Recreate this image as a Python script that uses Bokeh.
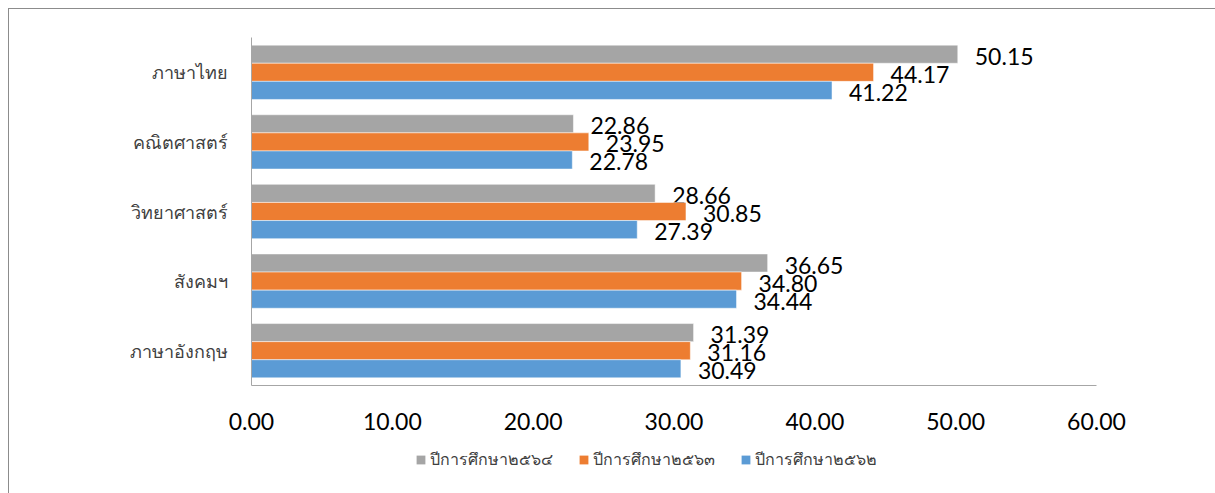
from bokeh.plotting import figure
from bokeh.layouts import column
from bokeh.models import FactorRange, Range1d, Legend, LegendItem, ColumnDataSource, NumeralTickFormatter, FixedTicker
from bokeh.transform import dodge
from bokeh.core.properties import value
from bokeh.embed import file_html
from bokeh.resources import INLINE

categories = ["ภาษาไทย", "คณิตศาสตร์", "วิทยาศาสตร์", "สังคมฯ", "ภาษาอังกฤษ"]
series_names = ["ปีการศึกษา๒๕๖๔", "ปีการศึกษา๒๕๖๓", "ปีการศึกษา๒๕๖๒"]
y2564 = [50.15, 22.86, 28.66, 36.65, 31.39]
y2563 = [44.17, 23.95, 30.85, 34.80, 31.16]
y2562 = [41.22, 22.78, 27.39, 34.44, 30.49]
x_ticks = [0, 10, 20, 30, 40, 50, 60]

colors = ["#A5A5A5", "#ED7D31", "#5B9BD5"]
offsets = [0.26, 0.0, -0.26]

src = ColumnDataSource(dict(cat=categories, s0=y2564, s1=y2563, s2=y2562,
                            l0=["%.2f" % v for v in y2564],
                            l1=["%.2f" % v for v in y2563],
                            l2=["%.2f" % v for v in y2562]))

p = figure(y_range=FactorRange(factors=list(reversed(categories)), range_padding=0),
           x_range=Range1d(0, 60), width=1207, height=432,
           output_backend="svg", toolbar_location=None,
           min_border_left=242, min_border_right=120, min_border_top=28,
           min_border_bottom=56)
p.margin = (8, 0, 0, 8)
p.styles = {"border-left": "1px solid #8c8c8c", "border-top": "1px solid #8c8c8c"}

for i in range(3):
    p.hbar(y=dodge("cat", offsets[i], range=p.y_range), right="s%d" % i, left=0,
           height=0.26, source=src, fill_color=colors[i], line_color="white", line_width=0.5)
    p.text(x="s%d" % i, y=dodge("cat", offsets[i], range=p.y_range), text="l%d" % i, source=src,
           x_offset=17, y_offset=2, text_baseline="middle", text_align="left",
           text_font=value("Lato"), text_font_size="23px", text_color="#000000")

p.xgrid.visible = False
p.ygrid.visible = False
p.outline_line_color = None

p.xaxis.ticker = FixedTicker(ticks=x_ticks)
p.xaxis.formatter = NumeralTickFormatter(format="0.00")
p.xaxis.major_tick_line_color = None
p.xaxis.minor_tick_line_color = None
p.xaxis.major_tick_out = 0
p.xaxis.major_label_standoff = 27
p.xaxis.major_label_text_font = "Lato"
p.xaxis.major_label_text_font_size = "23px"
p.xaxis.major_label_text_color = "#000000"
p.xaxis.axis_line_color = "#a6a6a6"

p.yaxis.major_tick_line_color = None
p.yaxis.minor_tick_line_color = None
p.yaxis.major_tick_out = 0
p.yaxis.major_label_standoff = 24
p.yaxis.major_label_text_font = "Noto Sans"
p.yaxis.major_label_text_font_size = "18px"
p.yaxis.major_label_text_color = "#404040"
p.yaxis.axis_line_color = "#a6a6a6"

# legend strip below the chart (same series, renderers hidden)
lg = figure(y_range=FactorRange(factors=list(reversed(categories))), x_range=Range1d(0, 60),
            width=1207, height=53, output_backend="svg", toolbar_location=None,
            min_border=0)
lg.margin = (0, 0, 0, 8)
lg.styles = {"border-left": "1px solid #8c8c8c"}
lg.axis.visible = False
lg.grid.visible = False
lg.outline_line_color = None
items = []
for i in range(3):
    r = lg.hbar(y="cat", right="s%d" % i, left=0, height=0.26, source=src,
                fill_color=colors[i], line_color=None, visible=False)
    items.append(LegendItem(label=series_names[i], renderers=[r]))

legend = Legend(items=items, orientation="horizontal", location=(164, 21),
                label_text_font="Noto Sans", label_text_font_size="16px",
                label_text_color="#404040", glyph_width=11, glyph_height=11,
                label_standoff=4, spacing=25, border_line_color=None,
                background_fill_alpha=0, padding=2, margin=0,
                inactive_fill_alpha=0)
lg.add_layout(legend, "center")

layout = column(p, lg, spacing=0)
open("out.html", "w").write(file_html(layout, INLINE))
